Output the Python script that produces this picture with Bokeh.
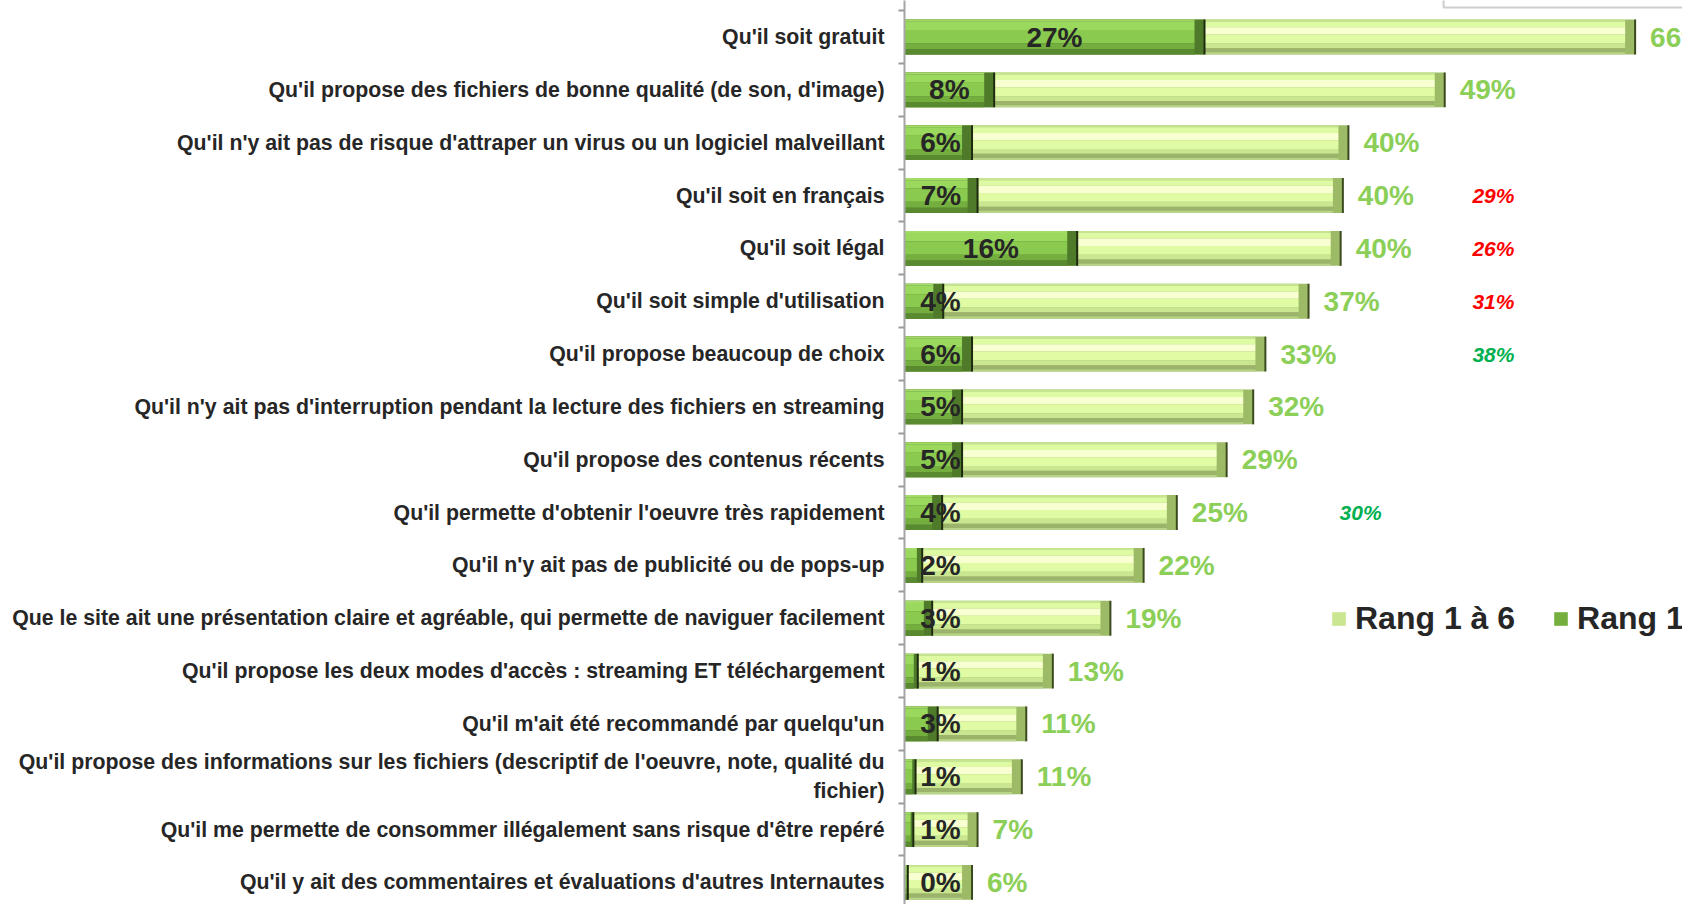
from bokeh.plotting import figure
from bokeh.models import Range1d, FixedTicker, ColumnDataSource, Legend, LegendItem, BoxAnnotation
from bokeh.core.properties import value
from bokeh.embed import file_html
from bokeh.resources import INLINE

categories = [
    "Qu'il soit gratuit",
    "Qu'il propose des fichiers de bonne qualité (de son, d'image)",
    "Qu'il n'y ait pas de risque d'attraper un virus ou un logiciel malveillant",
    "Qu'il soit en français",
    "Qu'il soit légal",
    "Qu'il soit simple d'utilisation",
    "Qu'il propose beaucoup de choix",
    "Qu'il n'y ait pas d'interruption pendant la lecture des fichiers en streaming",
    "Qu'il propose des contenus récents",
    "Qu'il permette d'obtenir l'oeuvre très rapidement",
    "Qu'il n'y ait pas de publicité ou de pops-up",
    "Que le site ait une présentation claire et agréable, qui permette de naviguer facilement",
    "Qu'il propose les deux modes d'accès : streaming ET téléchargement",
    "Qu'il m'ait été recommandé par quelqu'un",
    "Qu'il propose des informations sur les fichiers (descriptif de l'oeuvre, note, qualité du\nfichier)",
    "Qu'il me permette de consommer illégalement sans risque d'être repéré",
    "Qu'il y ait des commentaires et évaluations d'autres Internautes",
]
rang1_6 = [66.0, 48.8, 40.1, 39.6, 39.4, 36.5, 32.6, 31.5, 29.1, 24.6, 21.6, 18.6, 13.4, 11.0, 10.6, 6.6, 6.1]
rang1_6_labels = ["66%", "49%", "40%", "40%", "40%", "37%", "33%", "32%", "29%", "25%", "22%",
                  "19%", "13%", "11%", "11%", "7%", "6%"]
rang1 = [27.1, 8.1, 6.1, 6.6, 15.6, 3.5, 6.1, 5.2, 5.2, 3.4, 1.6, 2.5, 1.2, 3.0, 1.0, 0.8, 0.3]
rang1_labels = ["27%", "8%", "6%", "7%", "16%", "4%", "6%", "5%", "5%", "4%", "2%",
                "3%", "1%", "3%", "1%", "1%", "0%"]
comp_rows = [3, 4, 5, 6, 9]
comp_labels = ["29%", "26%", "31%", "38%", "30%"]
comp_colors = ["#FF0000", "#FF0000", "#FF0000", "#00B050", "#00B050"]
COMP_X = [51.3, 51.3, 51.3, 51.3, 39.3]  # annotation placement (in % units)

n = len(categories)
ys = list(range(n))
FONT = "Liberation Sans"

p = figure(width=1682, height=904, output_backend="svg", toolbar_location=None,
           x_range=Range1d(0, 70.28), y_range=Range1d(16.418, -0.691),
           min_border_left=904, min_border_right=0, min_border_top=0, min_border_bottom=0)
p.outline_line_color = None
p.xgrid.visible = False
p.ygrid.visible = False
p.xaxis.visible = False
p.background_fill_color = "white"
p.border_fill_color = "white"

# partially visible frame at top right (from the original slide)
p.add_layout(BoxAnnotation(left=48.7, right=80, top=-1.5, bottom=-0.558,
                           fill_color=None, line_color="#5A5A5A", line_width=2))

H = 0.66

LIGHT_BANDS = [(0.00, 0.06, "#C5E592"), (0.06, 0.22, "#DEFAA2"), (0.22, 0.43, "#F8FFD0"),
               (0.43, 0.68, "#E0FBA4"), (0.68, 0.82, "#CAE690"), (0.82, 0.94, "#9CB36C"),
               (0.94, 1.00, "#B8D488")]
DARK_BANDS = [(0.00, 0.06, "#A3DA68"), (0.06, 0.30, "#9BD85E"), (0.30, 0.68, "#8ACA4E"),
              (0.68, 0.85, "#74AE3F"), (0.85, 1.00, "#5A8A30")]


def bevel_bar(right, bands, cap_col, edge_col):
    caps = [min(0.9, r * 0.3) for r in right]
    src = ColumnDataSource(dict(y=ys, right=right,
                                right_in=[r - c for r, c in zip(right, caps)],
                                y0=[y - H / 2 for y in ys], y1=[y + H / 2 for y in ys]))
    rs = []
    cap = p.hbar(y="y", left=0, right="right", height=H, source=src,
                 fill_color=cap_col, line_color=None)
    rs.append(cap)
    for s, e, col in bands:
        off = -H / 2 + (s + e) / 2 * H
        src.data["yb_%d" % len(rs)] = [y + off for y in ys]
        r = p.hbar(y="yb_%d" % len(rs), left=0, right="right_in", height=(e - s) * H,
                   source=src, fill_color=col, line_color=None)
        rs.append(r)
    p.segment(x0="right", x1="right", y0="y0", y1="y1", source=src,
              line_color=edge_col, line_width=2)
    return rs


light = bevel_bar(rang1_6, LIGHT_BANDS, "#9DBB66", "#3B4A1E")
dark = bevel_bar(rang1, DARK_BANDS, "#4E7A2A", "#1E2A10")

# dark value labels (centered in Rang 1 bar, with a minimum offset)
dsrc = ColumnDataSource(dict(y=ys, x=[max(v / 2, 3.25) for v in rang1], t=rang1_labels))
p.text(x="x", y="y", text="t", source=dsrc, text_font=value(FONT), text_font_style="bold",
       text_font_size="28px", text_color="#262626", text_align="center", text_baseline="middle")

# green total labels
gsrc = ColumnDataSource(dict(y=ys, x=rang1_6, t=rang1_6_labels))
p.text(x="x", y="y", text="t", source=gsrc, text_font=value(FONT), text_font_style="bold",
       text_font_size="28px", text_color="#8CCF58", text_align="left", text_baseline="middle",
       x_offset=15)

# comparison annotations
csrc = ColumnDataSource(dict(y=comp_rows, x=COMP_X, t=comp_labels, c=comp_colors))
p.text(x="x", y="y", text="t", source=csrc, text_color="c", text_font=value(FONT),
       text_font_style="bold italic", text_font_size="21px", text_align="left",
       text_baseline="middle")

# y axis
ax = p.yaxis[0]
ax.ticker = FixedTicker(ticks=ys, minor_ticks=[i + 0.5 for i in range(-1, n)])
ax.major_label_overrides = {i: c for i, c in enumerate(categories)}
ax.major_tick_out = 0
ax.major_tick_in = 0
ax.minor_tick_out = 6
ax.minor_tick_in = 0
ax.minor_tick_line_color = "#9A9A9A"
ax.minor_tick_line_width = 2
ax.axis_line_color = "#A6A6A6"
ax.axis_line_width = 2
ax.major_label_standoff = 14
ax.major_label_text_font = FONT
ax.major_label_text_font_style = "bold"
ax.major_label_text_font_size = "21.3px"
ax.major_label_text_color = "#262626"

legend = Legend(items=[LegendItem(label="Rang 1 à 6", renderers=[light[5]]),
                       LegendItem(label="Rang 1", renderers=[dark[4]])],
                orientation="horizontal", location=(426, 267),
                label_text_font=FONT, label_text_font_style="bold",
                label_text_font_size="32px", label_text_color="#262626",
                glyph_width=17, glyph_height=17, label_standoff=8, spacing=37,
                padding=0, margin=0, border_line_color=None, background_fill_alpha=0)
p.add_layout(legend)

open("out.html", "w").write(file_html(p, INLINE))
